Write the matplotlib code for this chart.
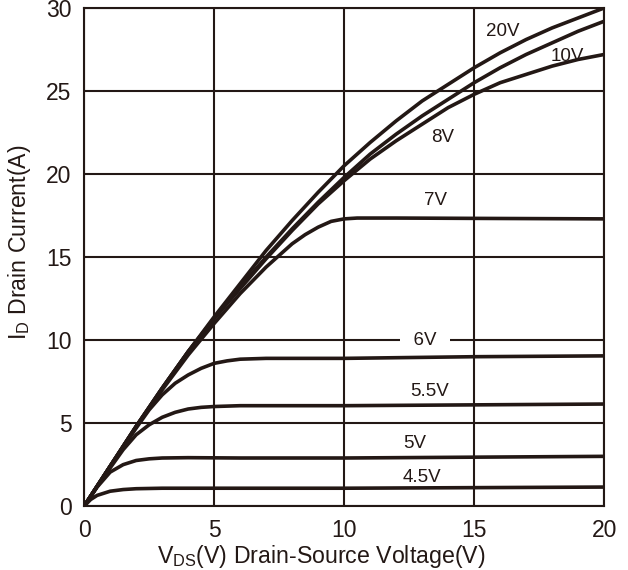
import matplotlib.pyplot as plt

plt.rcParams['font.family'] = ['Liberation Sans', 'DejaVu Sans']
plt.rcParams['mathtext.fontset'] = 'custom'
plt.rcParams['mathtext.rm'] = 'Liberation Sans'

INK = '#231815'

# Output characteristics: drain current vs drain-source voltage per gate voltage
vds_20 = [0, 0.5, 1, 2, 3, 4, 5, 6, 7, 8, 9, 10, 11, 12, 13, 14, 15, 16, 17, 18, 19, 20]
id_20 = [0, 1.2, 2.4, 4.8, 7.1, 9.3, 11.4, 13.4, 15.4, 17.2, 18.9, 20.5, 21.9, 23.2, 24.4, 25.4, 26.4, 27.3, 28.1, 28.8, 29.4, 30.0]

vds_10 = [0, 0.5, 1, 2, 3, 4, 5, 6, 7, 8, 9, 10, 11, 12, 13, 14, 15, 16, 17, 18, 19, 20]
id_10 = [0, 1.2, 2.4, 4.8, 7.1, 9.3, 11.3, 13.2, 15.0, 16.7, 18.3, 19.8, 21.2, 22.4, 23.5, 24.5, 25.5, 26.4, 27.2, 27.9, 28.6, 29.2]

vds_8 = [0, 0.5, 1, 2, 3, 4, 5, 6, 7, 8, 9, 10, 11, 12, 13, 14, 15, 16, 17, 18, 19, 20]
id_8 = [0, 1.2, 2.4, 4.8, 7.1, 9.3, 11.3, 13.1, 14.9, 16.6, 18.2, 19.6, 20.9, 22.0, 23.0, 24.0, 24.8, 25.5, 26.0, 26.5, 26.9, 27.2]

vds_7 = [0, 0.5, 1, 2, 3, 4, 5, 6, 7, 7.5, 8, 8.5, 9, 9.5, 10, 10.5, 11, 12, 15, 20]
id_7 = [0, 1.2, 2.4, 4.8, 7.0, 9.1, 11.0, 12.8, 14.4, 15.1, 15.8, 16.35, 16.8, 17.15, 17.3, 17.35, 17.35, 17.35, 17.33, 17.3]

vds_6 = [0, 0.5, 1, 2, 2.5, 3, 3.5, 4, 4.5, 5, 5.5, 6, 7, 10, 15, 20]
id_6 = [0, 1.2, 2.4, 4.7, 5.8, 6.7, 7.4, 7.9, 8.3, 8.6, 8.75, 8.85, 8.9, 8.9, 9.0, 9.05]

vds_55 = [0, 0.5, 1, 1.5, 2, 2.5, 3, 3.5, 4, 4.5, 5, 6, 10, 15, 20]
id_55 = [0, 1.2, 2.3, 3.4, 4.3, 4.9, 5.35, 5.65, 5.85, 5.95, 6.0, 6.05, 6.05, 6.1, 6.15]

vds_5 = [0, 0.5, 1, 1.5, 2, 2.5, 3, 4, 6, 10, 15, 20]
id_5 = [0, 1.15, 2.05, 2.5, 2.75, 2.85, 2.9, 2.92, 2.9, 2.9, 2.95, 3.0]

vds_45 = [0, 0.25, 0.5, 1, 1.5, 2, 3, 10, 20]
id_45 = [0, 0.4, 0.65, 0.9, 1.0, 1.05, 1.08, 1.08, 1.15]

curves = [(vds_20, id_20), (vds_10, id_10), (vds_8, id_8), (vds_7, id_7),
          (vds_6, id_6), (vds_55, id_55), (vds_5, id_5), (vds_45, id_45)]

label_text = ['20V', '10V', '8V', '7V', '6V', '5.5V', '5V', '4.5V']
label_x = [16.1, 18.6, 13.8, 13.5, 13.1, 13.3, 12.7, 13.0]
label_y = [28.6, 27.1, 22.2, 18.4, 9.95, 6.9, 3.8, 1.75]

fig = plt.figure(figsize=(6.28, 5.70), dpi=100)
ax = fig.add_axes([0.134, 0.112, 0.828, 0.874])

for x, y in curves:
    ax.plot(x, y, color=INK, lw=2.6, solid_capstyle='round', zorder=3)

for t, x, y in zip(label_text, label_x, label_y):
    if t == '6V':
        # this label sits on a grid line, so blank the line behind it
        ax.text(x, y, '  6V  ', ha='center', va='center', fontsize=13.5, color=INK, zorder=4,
                bbox=dict(boxstyle='square,pad=0.15', fc='white', ec='none'))
    else:
        ax.text(x, y, t, ha='center', va='center', fontsize=13.5, color=INK, zorder=4)

ax.set_xlim(0, 20)
ax.set_ylim(0, 30)
ax.set_xticks([0, 5, 10, 15, 20])
ax.set_yticks([0, 5, 10, 15, 20, 25, 30])
ax.grid(True, color=INK, lw=1.5)
ax.set_axisbelow(True)
for s in ax.spines.values():
    s.set_color(INK)
    s.set_linewidth(1.5)
ax.tick_params(length=0, labelsize=16.5, pad=9, colors=INK)

ax.set_xlabel(r'V$_{\mathregular{DS}}$(V) Drain-Source Voltage(V)', fontsize=16.7, color=INK)
ax.set_ylabel(r'I$_{\mathregular{D}}$ Drain Current(A)', fontsize=16.7, color=INK)
ax.xaxis.set_label_coords(0.456, -0.074)
ax.yaxis.set_label_coords(-0.098, 0.53)

fig.savefig('out.png', dpi=100)
